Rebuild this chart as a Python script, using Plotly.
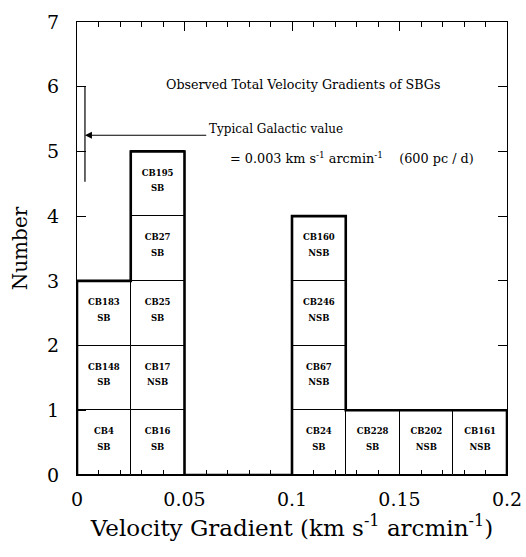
import plotly.graph_objects as go

# ---- data ----
bin_edges = [0.0, 0.025, 0.05, 0.075, 0.1, 0.125, 0.15, 0.175, 0.2]
counts = [3, 5, 0, 0, 4, 1, 1, 1]
# galaxies listed per bin from bottom to top
bin_galaxies = [
    ["CB4", "CB148", "CB183"],
    ["CB16", "CB17", "CB25", "CB27", "CB195"],
    [],
    [],
    ["CB24", "CB67", "CB246", "CB160"],
    ["CB228"],
    ["CB202"],
    ["CB161"],
]
bin_types = [
    ["SB", "SB", "SB"],
    ["SB", "NSB", "SB", "SB", "SB"],
    [],
    [],
    ["SB", "NSB", "NSB", "NSB"],
    ["SB"],
    ["NSB"],
    ["NSB"],
]
galactic_value = 0.0037
galactic_range = [4.53, 6.0]
x_ticks = [0, 0.05, 0.1, 0.15, 0.2]
x_tick_labels = ["0", "0.05", "0.1", "0.15", "0.2"]
y_ticks = [0, 1, 2, 3, 4, 5, 6, 7]

SERIF = "DejaVu Serif"
fig = go.Figure()

# cells
cx, cbase, names, types = [], [], [], []
for i, gals in enumerate(bin_galaxies):
    center = (bin_edges[i] + bin_edges[i + 1]) / 2
    for j, g in enumerate(gals):
        cx.append(center)
        cbase.append(j)
        names.append(f"<b>{g}</b>")
        types.append(f"<b>{bin_types[i][j]}</b>")

bw = bin_edges[1] - bin_edges[0]
fig.add_trace(go.Bar(
    x=cx, y=[1] * len(cx), base=cbase, width=bw,
    marker=dict(color="white", line=dict(color="black", width=1)),
    hoverinfo="skip", showlegend=False,
))
cell_font = dict(family=SERIF, size=8.5, color="black")
fig.add_trace(go.Scatter(
    x=cx, y=[b + 0.66 for b in cbase], text=names, mode="text",
    textfont=cell_font, showlegend=False, hoverinfo="skip",
))
fig.add_trace(go.Scatter(
    x=cx, y=[b + 0.42 for b in cbase], text=types, mode="text",
    textfont=cell_font, showlegend=False, hoverinfo="skip",
))

# histogram outline
xs = [bin_edges[0]] + list(bin_edges)
ys = [0] + counts + [0]
fig.add_trace(go.Scatter(
    x=xs, y=ys, mode="lines", line=dict(shape="hv", color="black", width=2.6),
    cliponaxis=False, showlegend=False, hoverinfo="skip",
))

# galactic value marker
fig.add_trace(go.Scatter(
    x=[galactic_value, galactic_value], y=galactic_range, mode="lines",
    line=dict(color="black", width=1.2), showlegend=False, hoverinfo="skip",
))

note_font = dict(family=SERIF, size=12, color="black")
fig.add_annotation(
    x=galactic_value, y=5.25, ax=0.0608, ay=5.25, xref="x", yref="y",
    axref="x", ayref="y", text="", showarrow=True, arrowhead=2,
    arrowsize=1.4, arrowwidth=1, arrowcolor="black",
)
fig.add_annotation(
    x=0.0605, y=5.34, xref="x", yref="y", text="Typical Galactic value",
    showarrow=False, xanchor="left", yanchor="middle", font=note_font,
)
fig.add_annotation(
    x=0.070, y=4.9, xref="x", yref="y",
    text="= 0.003 km s<sup>-1</sup> arcmin<sup>-1</sup>&nbsp;&nbsp;&nbsp;&nbsp;(600 pc / d)",
    showarrow=False, xanchor="left", yanchor="middle",
    font=dict(family=SERIF, size=12.8, color="black"),
)
fig.add_annotation(
    x=0.0405, y=6.03, xref="x", yref="y",
    text="Observed Total Velocity Gradients of SBGs",
    showarrow=False, xanchor="left", yanchor="middle",
    font=dict(family=SERIF, size=12.7, color="black"),
)

axis_common = dict(
    showline=True, linecolor="black", linewidth=1.2, mirror="ticks",
    ticks="inside", tickcolor="black", ticklen=9, tickwidth=1,
    showgrid=False, zeroline=False, automargin=False,
    tickfont=dict(family=SERIF, size=19, color="black"),
)
fig.update_xaxes(
    range=[0, 0.2], tickvals=x_ticks, ticktext=x_tick_labels,
    ticklabelstandoff=7,
    minor=dict(dtick=0.01, ticks="inside", ticklen=5, tickcolor="black", showgrid=False),
    title=dict(text="Velocity Gradient (km s<sup>-1</sup> arcmin<sup>-1</sup>)",
               font=dict(family=SERIF, size=23, color="black"), standoff=10),
    **axis_common,
)
fig.update_yaxes(
    range=[0, 7], tickvals=y_ticks, ticklabelstandoff=13,
    title=dict(text="Number", font=dict(family=SERIF, size=20, color="black"), standoff=14),
    **axis_common,
)
fig.update_layout(
    width=526, height=557, barmode="overlay", bargap=0,
    margin=dict(l=77, r=19, t=22, b=82),
    plot_bgcolor="white", paper_bgcolor="white",
)
fig.write_html("out.html")
